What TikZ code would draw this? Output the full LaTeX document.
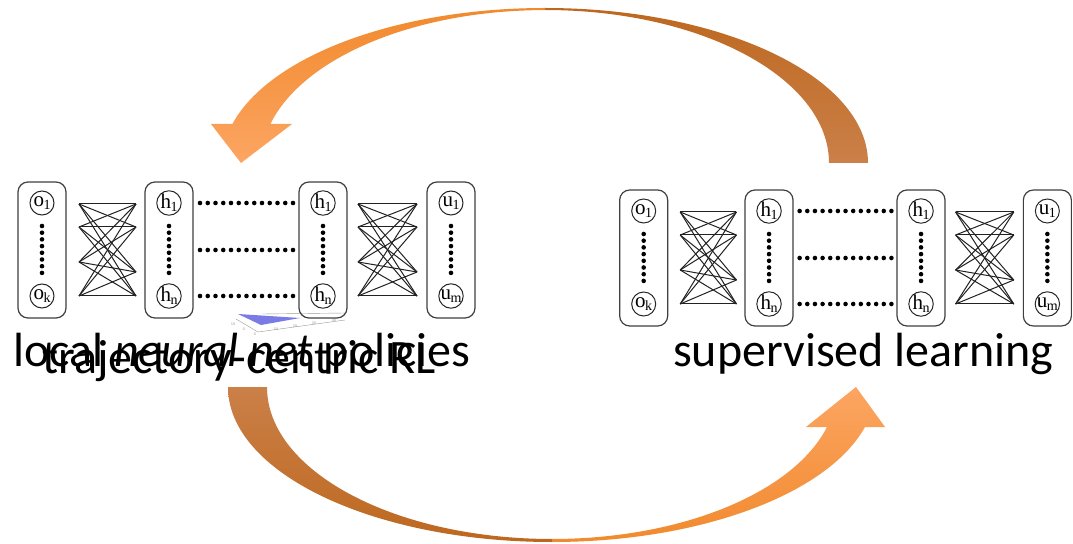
\documentclass[tikz,border=0pt]{standalone}
\usepackage{fontspec}
\setmainfont{Carlito}
\newfontfamily\netfont{Liberation Serif}
\usetikzlibrary{calc}

\definecolor{boxgray}{HTML}{404040}
\definecolor{linkgray}{HTML}{222222}
\definecolor{orangetop}{HTML}{F18A2E}
\definecolor{orangelow}{HTML}{FCA562}
\definecolor{browntop}{HTML}{BD6820}
\definecolor{brownlow}{HTML}{CB8048}
\definecolor{plotblue}{HTML}{7B7BE6}
\definecolor{plotgray}{HTML}{9A9A9A}

\tikzset{
  layerbox/.style={draw=boxgray, line width=1.2bp, rounded corners=10bp,
    minimum width=48bp, minimum height=136bp, inner sep=0pt},
  unit/.style={circle, draw=black!85, line width=1bp, minimum size=24bp,
    inner sep=0pt, font=\netfont\fontsize{21bp}{21bp}\selectfont},
  link/.style={draw=linkgray, line width=1bp},
  dotmark/.style={fill=black},
  caption/.style={anchor=base west, inner sep=0pt,
    font=\fontsize{48bp}{50bp}\selectfont},
  ticklabel/.style={text=plotgray, inner sep=0pt,
    font=\fontsize{4bp}{4bp}\selectfont},
}

% unit label with a lowered index
\newcommand\unitlab[2]{#1\kern-0.5bp\raisebox{-3bp}{\fontsize{14bp}{14bp}\selectfont #2}}

% one network: input, two hidden layers, output; #1 prefixes the names
\newcommand\drawnet[1]{%
  \foreach \cx/\nm in {42/a,169/b,323/c,451/d}
    \node[layerbox] (#1box\nm) at (\cx,250) {};
  \node[unit] (#1oa) at (42,203) {\unitlab{o}{1}};
  \node[unit] (#1ob) at (42,296) {\unitlab{o}{k}};
  \node[unit] (#1ha) at (169,203) {\unitlab{h}{1}};
  \node[unit] (#1hb) at (169,296) {\unitlab{h}{n}};
  \node[unit] (#1hc) at (323,203) {\unitlab{h}{1}};
  \node[unit] (#1hd) at (323,296) {\unitlab{h}{n}};
  \node[unit] (#1ua) at (451,203) {\unitlab{u}{1}};
  \node[unit] (#1ub) at (451,296) {\unitlab{u}{m}};
  % vertical ellipsis dots inside every layer
  \foreach \cx in {42,169,323,451}
    \foreach \k in {0,...,7}
      \fill[dotmark] (\cx,{226+\k*6.7}) circle[radius=2.3bp];
  % dotted rows between the hidden layers
  \foreach \ry in {203,250,296}
    \foreach \k in {0,...,12}
      \fill[dotmark] ({200+\k*7.75},\ry) circle[radius=2.3bp];
  % fully connected bundles
  \foreach \i/\ly/\ry in {1/204/204,2/227/227,3/262/272,4/296/296}{
    \coordinate (#1pl\i) at (79,\ly);
    \coordinate (#1pr\i) at (136,\ry);
    \coordinate (#1ql\i) at (358,\ly);
    \coordinate (#1qr\i) at (417,\ry);
  }
  \foreach \i in {1,...,4}
    \foreach \j in {1,...,4}{
      \draw[link] (#1pl\i) -- (#1pr\j);
      \draw[link] (#1ql\i) -- (#1qr\j);
    }
}

\begin{document}
\begin{tikzpicture}[x=1bp,y=-1bp]
\useasboundingbox (0,0) rectangle (1073,544);
\fill[white] (0,0) rectangle (1073,544);

% upper curved arrow, right to left
\shade[top color=browntop, bottom color=brownlow]
  (868,163) arc[start angle=0, end angle=-90, x radius=323, y radius=155]
  -- (545,10) arc[start angle=-90, end angle=0, x radius=284, y radius=153]
  -- cycle;
\shade[top color=orangetop, bottom color=orangelow]
  (545,8) arc[start angle=-90, end angle=-165.4, x radius=323, y radius=155]
  coordinate (headL)
  -- (211,124) -- (241,163) coordinate (tipL) -- (292,124)
  -- (270.4,124) arc[start angle=-165.2, end angle=-90, x radius=284, y radius=153]
  -- cycle;

% lower curved arrow, left to right
\shade[top color=brownlow, bottom color=browntop]
  (228,387) arc[start angle=180, end angle=90, x radius=324, y radius=155]
  -- (552,539) arc[start angle=90, end angle=180, x radius=285, y radius=152]
  -- cycle;
\shade[top color=orangelow, bottom color=orangetop]
  (552,542) arc[start angle=90, end angle=14.96, x radius=324, y radius=155]
  -- (885,427) -- (856,387) coordinate (tipR) -- (806,427)
  -- (827,427) arc[start angle=15.26, end angle=90, x radius=285, y radius=152]
  -- cycle;

% fragment of a surface plot below the left network
\fill[plotblue] (238,314) -- (300,318) -- (261,325) -- cycle;
\draw[plotgray, line width=0.4bp] (236,319) -- (258,332) -- (345,320);
\draw[plotgray, line width=0.4bp] (262,314) -- (345,313);
\node[ticklabel] (tk1) at (233,324) {10};
\node[ticklabel] (tk2) at (244,329) {0};
\node[ticklabel] (tk3) at (255,334) {0};
\node[ticklabel] (tk4) at (276,329) {10};
\node[ticklabel] (tk5) at (295,326) {20};
\node[ticklabel] (tk6) at (314,323) {30};
\node[ticklabel] (tk7) at (334,320) {40};

% the two networks
\begin{scope}
  \drawnet{L}
\end{scope}
\begin{scope}[shift={(620,8)}, xscale=0.987, shift={(-18,0)}]
  \drawnet{R}
\end{scope}

% captions
\node[caption] (policies) at (13,367) {local \textit{neural net} policies};
\node[caption] (trajrl) at (42,374) {trajectory-centric RL};
\node[caption] (sl) at (673,367) {supervised learning};
\end{tikzpicture}
\end{document}
